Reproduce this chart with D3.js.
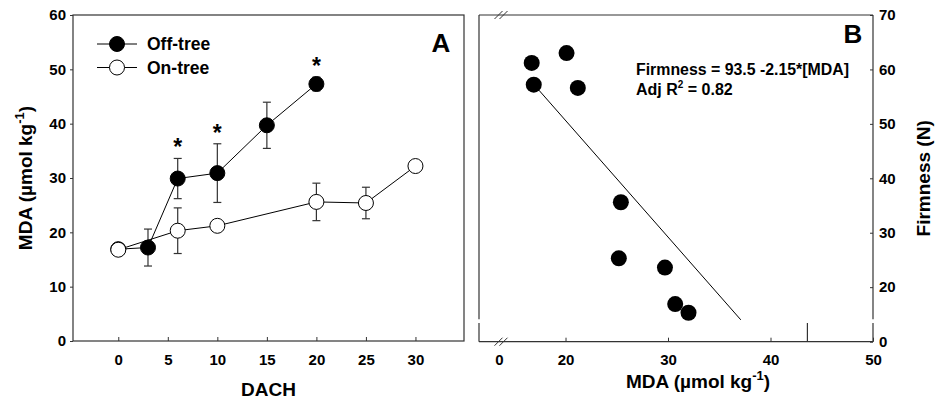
<!DOCTYPE html>
<html>
<head>
<meta charset="utf-8">
<script src="https://cdn.jsdelivr.net/npm/d3@7"></script>
<style>
  body { margin: 0; background: #fff; }
  svg text { font-family: "Liberation Sans", Arial, sans-serif; font-weight: bold; fill: #000; }
</style>
</head>
<body>
<div id="chart"></div>
<script>
// Panel A data: MDA over days after harvest
var dachOff = [0, 3, 6, 10, 15, 20];
var mdaOff  = [16.9, 17.2, 29.9, 30.9, 39.7, 47.3];
var errOff  = [0, 3.4, 3.7, 5.4, 4.25, 1.25];

var dachOn = [0, 6, 10, 20, 25, 30];
var mdaOn  = [16.8, 20.3, 21.2, 25.6, 25.4, 32.2];
var errOn  = [0, 4.2, 0.8, 3.45, 2.9, 0];

var sigDach = [6, 10, 20];

var xTicksA = [0, 5, 10, 15, 20, 25, 30];
var yTicksA = [0, 10, 20, 30, 40, 50, 60];

// Panel B data: firmness against MDA
var mdaB  = [16.7, 20.1, 16.9, 21.2, 25.4, 25.2, 29.7, 30.7, 32.0];
var firmB = [61.2, 63.0, 57.2, 56.6, 35.6, 25.3, 23.6, 16.9, 15.3];
var fitMda  = [17.4, 37.1];
var fitFirm = [56.2, 14.0];

var xTicksB = [0, 20, 30, 40, 50];
var yTicksB = [0, 20, 30, 40, 50, 60, 70];

var W = 937, H = 401;
var svg = d3.select("#chart").append("svg")
    .attr("width", W).attr("height", H);

var axisColor = "#333";

//---------------- Panel A ----------------
var xA = d3.scaleLinear().domain([-4.57, 34.9]).range([73, 464]);
var yA = d3.scaleLinear().domain([0, 60]).range([341, 15]);

var gA = svg.append("g");

gA.append("rect")
    .attr("x", xA.range()[0]).attr("y", yA.range()[1])
    .attr("width", xA.range()[1] - xA.range()[0])
    .attr("height", yA.range()[0] - yA.range()[1])
    .attr("fill", "none").attr("stroke", axisColor).attr("stroke-width", 1.2);

var axA_x = gA.append("g")
    .attr("transform", "translate(0," + yA.range()[0] + ")")
    .call(d3.axisBottom(xA).tickValues(xTicksA).tickSize(-4).tickPadding(13).tickSizeOuter(0));
var axA_y = gA.append("g")
    .attr("transform", "translate(" + xA.range()[0] + ",0)")
    .call(d3.axisLeft(yA).tickValues(yTicksA).tickSize(3).tickPadding(4).tickSizeOuter(0));

[axA_x, axA_y].forEach(function(a) {
  a.select(".domain").remove();
  a.selectAll("line").attr("stroke", axisColor);
  a.selectAll("text").style("font-size", "15px").attr("fill", "#000");
});

// connecting lines
var lineA = d3.line().x(function(d){ return xA(d[0]); }).y(function(d){ return yA(d[1]); });

function drawSeries(xs, ys, errs, fill) {
  var pts = xs.map(function(x, i){ return [x, ys[i], errs[i]]; });
  var g = gA.append("g");
  // error bars
  var eb = g.selectAll(".eb").data(pts.filter(function(d){ return d[2] > 0; })).enter().append("g");
  eb.append("line")
      .attr("x1", function(d){ return xA(d[0]); }).attr("x2", function(d){ return xA(d[0]); })
      .attr("y1", function(d){ return yA(d[1] - d[2]); }).attr("y2", function(d){ return yA(d[1] + d[2]); })
      .attr("stroke", axisColor).attr("stroke-width", 1.2);
  [-1, 1].forEach(function(s) {
    eb.append("line")
        .attr("x1", function(d){ return xA(d[0]) - 4; }).attr("x2", function(d){ return xA(d[0]) + 4; })
        .attr("y1", function(d){ return yA(d[1] + s * d[2]); }).attr("y2", function(d){ return yA(d[1] + s * d[2]); })
        .attr("stroke", axisColor).attr("stroke-width", 1.2);
  });
  g.append("path").datum(pts).attr("d", lineA)
      .attr("fill", "none").attr("stroke", "#000").attr("stroke-width", 1);
  g.selectAll("circle").data(pts).enter().append("circle")
      .attr("cx", function(d){ return xA(d[0]); })
      .attr("cy", function(d){ return yA(d[1]); })
      .attr("r", 7.5)
      .attr("fill", fill).attr("stroke", "#000").attr("stroke-width", 1);
}
drawSeries(dachOff, mdaOff, errOff, "#000");
drawSeries(dachOn, mdaOn, errOn, "#fff");

// significance stars
gA.selectAll(".star").data(sigDach).enter().append("text")
    .attr("x", function(d){ return xA(d); })
    .attr("y", function(d){ var i = dachOff.indexOf(d); return yA(mdaOff[i] + errOff[i]) - 3; })
    .attr("text-anchor", "middle")
    .style("font-size", "23px")
    .text("*");

// legend
var legA = [{name: "Off-tree", fill: "#000"}, {name: "On-tree", fill: "#fff"}];
var lg = gA.selectAll(".leg").data(legA).enter().append("g")
    .attr("transform", function(d, i){ return "translate(0," + (44 + i * 23.5) + ")"; });
lg.append("line").attr("x1", 97).attr("x2", 137).attr("stroke", "#000");
lg.append("circle").attr("cx", 117).attr("r", 7.5)
    .attr("fill", function(d){ return d.fill; }).attr("stroke", "#000");
lg.append("text").attr("x", 147).attr("y", 6).style("font-size", "17.5px")
    .text(function(d){ return d.name; });

gA.append("text").attr("x", 441).attr("y", 52).attr("text-anchor", "middle")
    .style("font-size", "26px").text("A");

gA.append("text").attr("x", (xA.range()[0] + xA.range()[1]) / 2).attr("y", 396)
    .attr("text-anchor", "middle").style("font-size", "19px").text("DACH");

var ytA = gA.append("text")
    .attr("transform", "translate(32," + ((yA.range()[0] + yA.range()[1]) / 2) + ") rotate(-90)")
    .attr("text-anchor", "middle").style("font-size", "19px");
ytA.append("tspan").text("MDA (µmol kg");
ytA.append("tspan").attr("dy", -8).style("font-size", "13px").text("-1");
ytA.append("tspan").attr("dy", 8).text(")");

//---------------- Panel B ----------------
var xB = d3.scaleLinear().domain([-2, 0.4, 13.9, 50]).range([479, 503, 503, 873]);
var yB = d3.scaleLinear().domain([0, 4, 13.6, 70]).range([341.7, 323, 322, 15]);

var gB = svg.append("g");
var bL = 479, bR = 873, bT = 15, bB = 341.7;

// frame with gaps at the y-axis break
var frame = [
  [[bL, bT], [bR, bT]],
  [[bL, bB], [bR, bB]],
  [[bL, bT], [bL, yB(14.1)]],
  [[bL, yB(4.3)], [bL, bB]],
  [[bR, bT], [bR, yB(14.1)]],
  [[bR, yB(4.3)], [bR, bB]]
];
gB.selectAll(".fr").data(frame).enter().append("line")
    .attr("x1", function(d){ return d[0][0]; }).attr("y1", function(d){ return d[0][1]; })
    .attr("x2", function(d){ return d[1][0]; }).attr("y2", function(d){ return d[1][1]; })
    .attr("stroke", axisColor).attr("stroke-width", 1.2);

var axB_x = gB.append("g")
    .attr("transform", "translate(0," + bB + ")")
    .call(d3.axisBottom(xB).tickValues(xTicksB).tickSize(-4).tickPadding(13).tickSizeOuter(0));
var axB_y = gB.append("g")
    .attr("transform", "translate(" + bR + ",0)")
    .call(d3.axisRight(yB).tickValues(yTicksB).tickSize(-3).tickPadding(6).tickSizeOuter(0));
[axB_x, axB_y].forEach(function(a) {
  a.select(".domain").remove();
  a.selectAll("line").attr("stroke", axisColor);
  a.selectAll("text").style("font-size", "15px").attr("fill", "#000");
});
axB_x.selectAll(".tick").filter(function(d){ return d === 0; }).select("line").remove();

// axis break marks on the x axis (top and bottom)
var bx = xB(0.2);
[bT, bB].forEach(function(yy) {
  [-2.5, 2.5].forEach(function(dx) {
    gB.append("line")
        .attr("x1", bx + dx - 4).attr("y1", yy + 4)
        .attr("x2", bx + dx + 4).attr("y2", yy - 4)
        .attr("stroke", axisColor).attr("stroke-width", 1);
  });
});
// short vertical line in the lower segment
gB.append("line")
    .attr("x1", xB(43.6)).attr("x2", xB(43.6))
    .attr("y1", yB(0)).attr("y2", yB(4))
    .attr("stroke", axisColor).attr("stroke-width", 1.2);

// regression line
gB.append("line")
    .attr("x1", xB(fitMda[0])).attr("y1", yB(fitFirm[0]))
    .attr("x2", xB(fitMda[1])).attr("y2", yB(fitFirm[1]))
    .attr("stroke", "#000").attr("stroke-width", 1);

gB.selectAll(".pt").data(mdaB).enter().append("circle")
    .attr("cx", function(d){ return xB(d); })
    .attr("cy", function(d, i){ return yB(firmB[i]); })
    .attr("r", 8).attr("fill", "#000");

gB.append("text").attr("x", 636).attr("y", 75).style("font-size", "16px")
    .attr("textLength", 213).attr("lengthAdjust", "spacingAndGlyphs")
    .text("Firmness = 93.5 -2.15*[MDA]");
var r2 = gB.append("text").attr("x", 636).attr("y", 95).style("font-size", "16px");
r2.append("tspan").text("Adj R");
r2.append("tspan").attr("dy", -7).style("font-size", "10px").text("2");
r2.append("tspan").attr("dy", 7).text(" = 0.82");

gB.append("text").attr("x", 853).attr("y", 43).attr("text-anchor", "middle")
    .style("font-size", "26px").text("B");

var xtB = gB.append("text").attr("x", 698).attr("y", 388)
    .attr("text-anchor", "middle").style("font-size", "19px");
xtB.append("tspan").text("MDA (µmol kg");
xtB.append("tspan").attr("dy", -8).style("font-size", "13px").text("-1");
xtB.append("tspan").attr("dy", 8).text(")");

gB.append("text")
    .attr("transform", "translate(930," + ((bT + bB) / 2) + ") rotate(-90)")
    .attr("text-anchor", "middle").style("font-size", "19px").text("Firmness (N)");
</script>
</body>
</html>
